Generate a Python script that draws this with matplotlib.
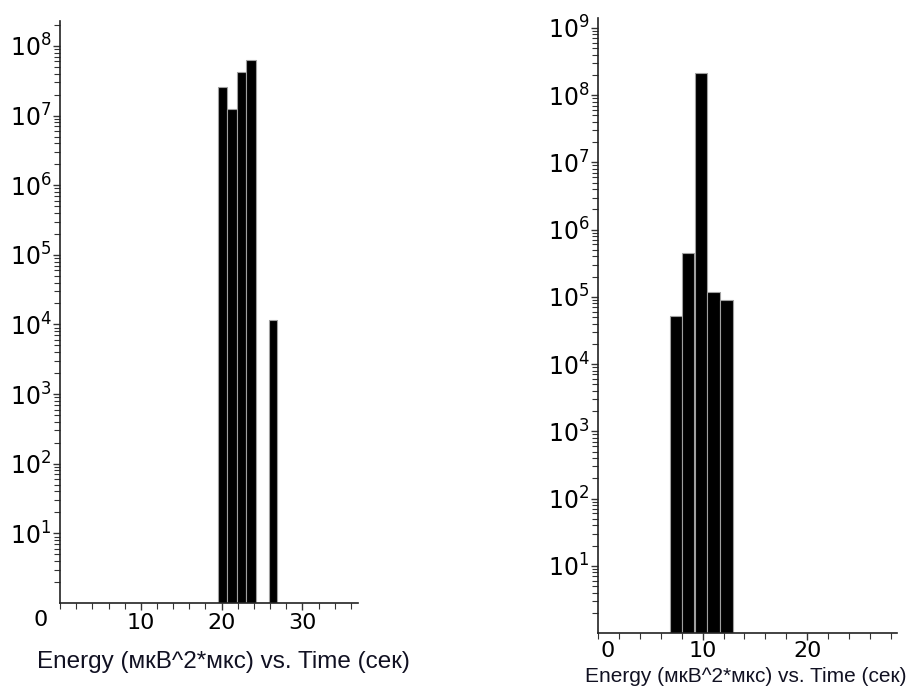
import matplotlib
matplotlib.use("Agg")
import matplotlib.pyplot as plt
from matplotlib.ticker import FixedLocator, LogLocator, NullFormatter, MultipleLocator

# ---- data ----
left_starts = [19.55, 20.65, 21.9, 23.0, 25.85]
left_widths = [1.1, 1.25, 1.1, 1.3, 1.0]
left_values = [2.6e7, 1.23e7, 4.2e7, 6.3e7, 1.16e4]

right_starts = [6.9, 8.05, 9.25, 10.45, 11.7]
right_widths = [1.1, 1.15, 1.15, 1.2, 1.2]
right_values = [5.1e4, 4.5e5, 2.1e8, 1.17e5, 9.1e4]

left_decades = [1, 2, 3, 4, 5, 6, 7, 8]
right_decades = [1, 2, 3, 4, 5, 6, 7, 8, 9]
left_xticks = [10, 20, 30]
right_xticks = [10, 20]
xlabel_text = "Energy (мкВ^2*мкс) vs. Time (сек)"

plt.rcParams['mathtext.fontset'] = 'dejavusans'

fig = plt.figure(figsize=(9.12, 6.91), dpi=100)
axL = fig.add_axes([0.0658, 0.1274, 0.327, 0.8426])
axR = fig.add_axes([0.6557, 0.0839, 0.328, 0.890])


def style(ax, starts, widths, values, decades, xticks, xmax, ymax, zero_x, xpad):
    ax.bar(starts, values, width=widths, align='edge', bottom=1,
           color='black', edgecolor='#a0a0a0', linewidth=0.8)
    ax.set_yscale('log')
    ax.set_ylim(1, ymax)
    ax.set_xlim(0, xmax)
    for s in ['top', 'right']:
        ax.spines[s].set_visible(False)
    for s in ['left', 'bottom']:
        ax.spines[s].set_linewidth(1.2)
        ax.spines[s].set_color('#222222')
    ax.yaxis.set_major_locator(FixedLocator([10.0 ** d for d in decades]))
    ax.set_yticklabels([r'$10^{%d}$' % d for d in decades])
    ax.yaxis.set_minor_locator(LogLocator(base=10, subs=range(2, 10), numticks=20))
    ax.yaxis.set_minor_formatter(NullFormatter())
    ax.xaxis.set_major_locator(FixedLocator(xticks))
    ax.set_xticklabels([str(t) for t in xticks])
    ax.xaxis.set_minor_locator(MultipleLocator(2))
    ax.tick_params(axis='both', which='major', direction='out', length=5,
                   width=1, color='#333333')
    ax.tick_params(axis='y', which='major', labelsize=17, pad=1)
    ax.tick_params(axis='x', which='major', labelsize=16, pad=xpad)
    ax.tick_params(axis='both', which='minor', direction='out', length=4,
                   width=0.8, color='#333333')
    ax.text(zero_x, -0.03, '0', transform=ax.transAxes, ha='center', va='center',
            fontsize=16)


style(axL, left_starts, left_widths, left_values, left_decades, left_xticks,
      36.9, 2.3e8, -0.065, 2.5)
style(axR, right_starts, right_widths, right_values, right_decades, right_xticks,
      28.6, 1.4e9, 0.033, 0.5)

lab_family = ['Liberation Sans Narrow', 'Liberation Sans', 'DejaVu Sans']
fig.text(223 / 912, 1 - 662 / 691, xlabel_text, ha='center', va='center',
         fontsize=17.5, family=lab_family, color='#111122')
fig.text(746 / 912, 1 - 677 / 691, xlabel_text, ha='center', va='center',
         fontsize=15, family=lab_family, color='#111122')

fig.savefig('out.png', dpi=100)
